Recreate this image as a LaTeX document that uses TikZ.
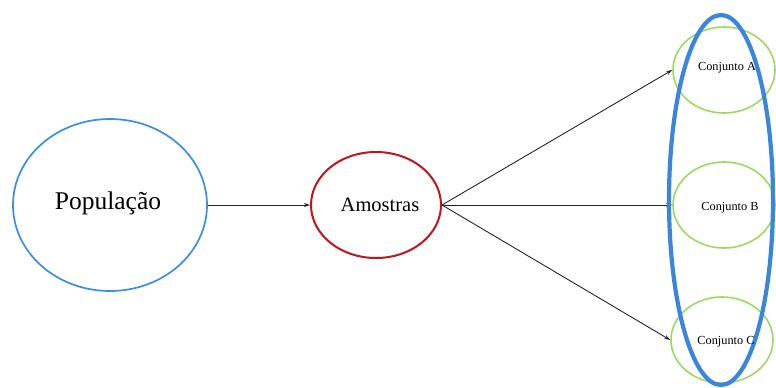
\documentclass[tikz,border=0pt]{standalone}
\usepackage{fontspec}
\setmainfont{Liberation Serif}
\usetikzlibrary{shapes.geometric,arrows.meta}
\definecolor{popblue}{HTML}{3A8EE6}
\definecolor{amred}{HTML}{C0141E}
\definecolor{cgreen}{HTML}{9BDB5C}
\definecolor{bigblue}{HTML}{3A86DF}
\tikzset{
  ell/.style={ellipse, inner sep=0pt, text=black},
  conj/.style={ell, draw=cgreen, line width=1.6pt, minimum width=102pt, minimum height=86pt},
  conjtext/.style={font=\fontsize{12.3}{14}\selectfont},
  conn/.style={-{Stealth[length=6pt,width=4pt]}, line width=0.9pt, draw=black!85},
}
\begin{document}
\begin{tikzpicture}[x=1pt,y=-1pt]
\useasboundingbox (0,0) rectangle (776,388);
\fill[white] (0,0) rectangle (776,388);
\node[ell, draw=popblue, line width=1.7pt, minimum width=194pt, minimum height=172pt] (pop) at (110,205) {};
\node[font=\fontsize{25.5}{30}\selectfont] (poptext) at (108,203) {População};
\node[ell, draw=amred, line width=2pt, minimum width=130pt, minimum height=106pt] (am) at (376,205) {};
\node[font=\fontsize{20.5}{24}\selectfont] (amtext) at (380,205) {Amostras};
\node[conj] (A) at (724,70) {};
\node[conj] (B) at (724,205) {};
\node[conj] (C) at (722,340) {};
\draw[conn] (pop.east) -- (am.west);
\draw[conn] (am.east) -- (A.west);
\draw[conn] (am.east) -- (B.west);
\draw[conn] (am.east) -- (C.west);
\node[ell, draw=bigblue, line width=4.2pt, minimum width=104pt, minimum height=370pt] (big) at (721,200) {};
\node[conjtext] (At) at (727,68) {Conjunto A};
\node[conjtext] (Bt) at (730,208) {Conjunto B};
\node[conjtext] (Ct) at (726,342) {Conjunto C};
\end{tikzpicture}
\end{document}
